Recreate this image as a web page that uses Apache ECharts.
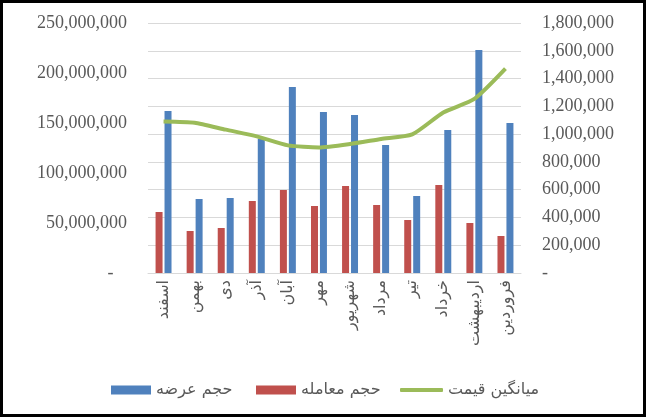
<!DOCTYPE html>
<html>
<head>
<meta charset="utf-8">
<script src="https://cdn.jsdelivr.net/npm/echarts@6/dist/echarts.min.js"></script>
<style>
  html, body { margin: 0; padding: 0; background: #fff; }
  #chart { width: 646px; height: 417px; }
</style>
</head>
<body>
<div id="chart"></div>
<script>
const months = ["اسفند", "بهمن", "دی", "آذر", "آبان", "مهر", "شهریور", "مرداد", "تیر", "خرداد", "اردیبهشت", "فروردین"];
const supplyVolume = [162e6, 74e6, 75e6, 134e6, 186e6, 161e6, 158e6, 128e6, 77e6, 143e6, 223e6, 150e6];
const tradeVolume = [61e6, 42e6, 45e6, 72e6, 83e6, 67e6, 87e6, 68e6, 53e6, 88e6, 50e6, 37e6];
const avgPrice = [1091000, 1082000, 1032000, 984000, 919000, 904000, 929000, 965000, 998000, 1156000, 1253000, 1471000];

const SERIF = "'Liberation Serif', 'Times New Roman', serif";
const FA = "'DejaVu Sans', sans-serif";
const GRAY = "#595959";

const chart = echarts.init(document.getElementById("chart"));

function fmt(v) {
  return v === 0 ? "-" : v.toLocaleString("en-US");
}

const legendText = { fontFamily: FA, fontSize: 16, color: GRAY };

chart.setOption({
  animation: false,
  grid: { left: 148, right: 125, top: 23, bottom: 144 },
  legend: [
    {
      left: 111, top: 382, padding: 0, itemWidth: 40, itemHeight: 9, itemGap: 5,
      textStyle: legendText,
      data: [{ name: "حجم عرضه", icon: "rect" }]
    },
    {
      left: 256, top: 382, padding: 0, itemWidth: 40, itemHeight: 9, itemGap: 5,
      textStyle: legendText,
      data: [{ name: "حجم معامله", icon: "rect" }]
    },
    {
      left: 400, top: 382, padding: 0, itemWidth: 43, itemHeight: 4, itemGap: 5,
      textStyle: legendText,
      data: [{ name: "میانگین قیمت", icon: "roundRect" }]
    }
  ],
  xAxis: {
    type: "category",
    data: months,
    axisLine: { lineStyle: { color: "#D9D9D9", width: 1 } },
    axisTick: { show: false },
    axisLabel: {
      interval: 0,
      rotate: 90,
      margin: 7,
      fontFamily: FA,
      fontSize: 16,
      color: GRAY
    }
  },
  yAxis: [
    {
      type: "value",
      min: 0,
      max: 250000000,
      interval: 50000000,
      splitLine: { show: false },
      axisLine: { show: false },
      axisTick: { show: false },
      axisLabel: {
        margin: 21,
        fontFamily: SERIF,
        fontSize: 18,
        color: GRAY,
        formatter: (v) => (v === 0 ? "-   " : fmt(v))
      }
    },
    {
      type: "value",
      min: 0,
      max: 1800000,
      interval: 200000,
      splitLine: { show: true, lineStyle: { color: "#D9D9D9", width: 1 } },
      axisLine: { show: false },
      axisTick: { show: false },
      axisLabel: {
        margin: 21,
        fontFamily: SERIF,
        fontSize: 18,
        color: GRAY,
        formatter: fmt
      }
    }
  ],
  series: [
    {
      name: "حجم معامله",
      type: "bar",
      data: tradeVolume,
      barWidth: 7,
      barGap: "28%",
      itemStyle: { color: "#C0504D" }
    },
    {
      name: "حجم عرضه",
      type: "bar",
      data: supplyVolume,
      barWidth: 7,
      itemStyle: { color: "#4F81BD" }
    },
    {
      name: "میانگین قیمت",
      type: "line",
      yAxisIndex: 1,
      data: avgPrice,
      smooth: 0.2,
      symbol: "none",
      z: 5,
      lineStyle: { color: "#9BBB59", width: 4 },
      itemStyle: { color: "#9BBB59" }
    }
  ],
  graphic: [
    {
      type: "rect",
      shape: { x: 1.5, y: 1.5, width: 643, height: 414 },
      style: { fill: null, stroke: "#000", lineWidth: 3 },
      silent: true,
      z: 100
    }
  ]
});
</script>
</body>
</html>
